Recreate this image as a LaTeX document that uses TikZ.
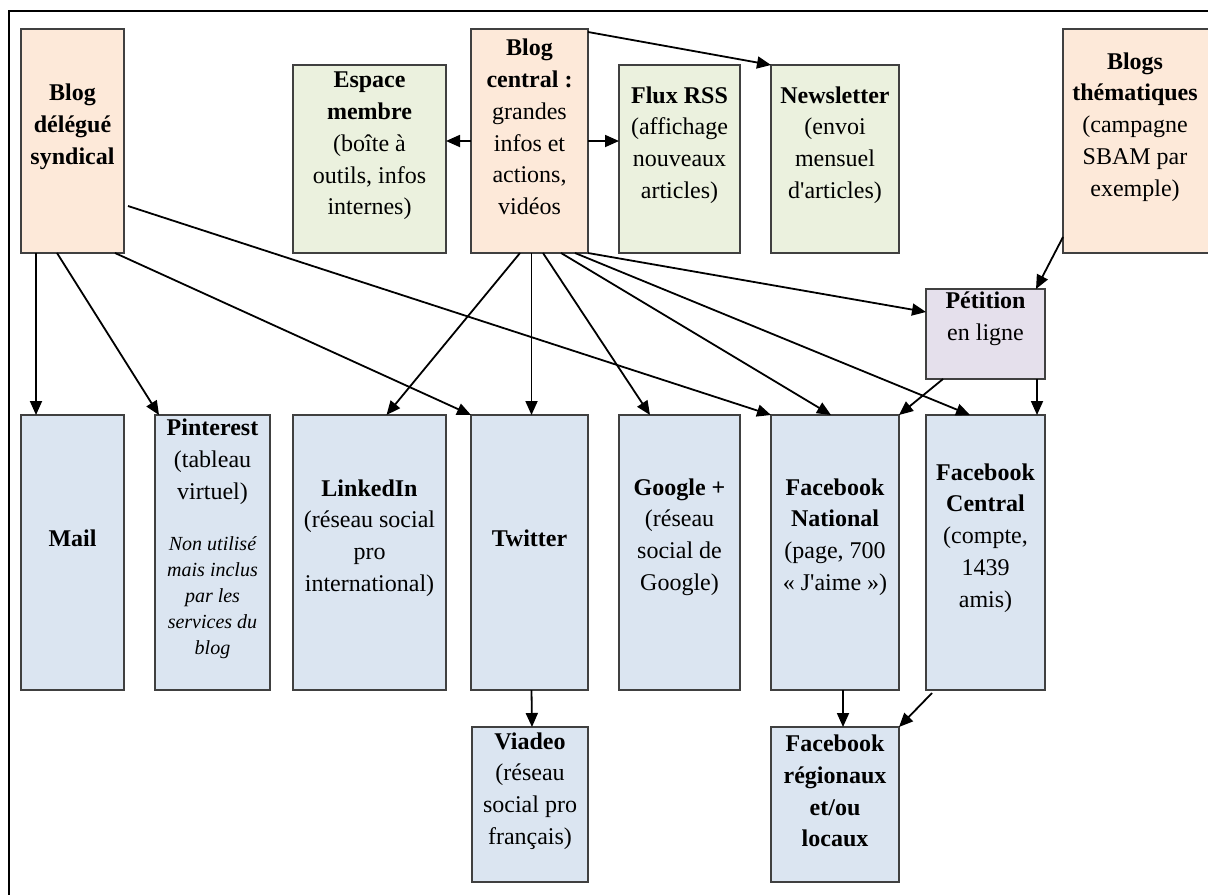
\documentclass[tikz,border=0pt]{standalone}
\usepackage{fontspec}
\usepackage{tikz}
\usetikzlibrary{calc}
\usetikzlibrary{arrows.meta}
\newfontfamily\diagfont{Liberation Serif}

\definecolor{peach}{RGB}{253,233,217}
\definecolor{memgreen}{RGB}{235,241,222}
\definecolor{paleblue}{RGB}{219,229,241}
\definecolor{lilac}{RGB}{229,224,236}

\tikzset{
  box/.style={draw=black!75, line width=0.7pt, inner sep=0pt, outer sep=0pt},
  blogbox/.style={box, fill=peach},
  sitebox/.style={box, fill=memgreen},
  netbox/.style={box, fill=paleblue},
  petbox/.style={box, fill=lilac},
  wh/.style 2 args={minimum width=#1*0.5pt, minimum height=#2*0.5pt},
  txt/.style={align=center, inner sep=0pt, font=\diagfont\fontsize{12}{15.9}\selectfont},
  note/.style={align=center, inner sep=0pt, font=\diagfont\itshape\fontsize{10}{13}\selectfont},
  link/.style={line width=0.9pt, -{Triangle[length=7pt,width=6pt]}}
}

\begin{document}
\begin{tikzpicture}[x=0.5pt, y=-0.5pt]
      \useasboundingbox (0,0) rectangle (1208,894);
      \fill[white] (0,0) rectangle (1208,894);
      \draw[line width=1pt] (9,11) rectangle (1240,920);

      % blogs and site
      \node[blogbox, wh={103}{224}] (deleg) at (72.5,141) {};
      \node[sitebox, wh={153}{188}] (espace) at (369.5,159) {};
      \node[blogbox, wh={117}{224}] (central) at (529.5,141) {};
      \node[sitebox, wh={121}{188}] (rss) at (679.5,159) {};
      \node[sitebox, wh={128}{188}] (news) at (835,159) {};
      \node[blogbox, wh={149}{224}] (themes) at (1137.5,141) {};
      \node[petbox, wh={119}{90}] (petition) at (985.5,334) {};

      % networks
      \node[netbox, wh={103}{275}] (mail) at (72.5,552.5) {};
      \node[netbox, wh={115}{275}] (pinterest) at (212.5,552.5) {};
      \node[netbox, wh={153}{275}] (linkedin) at (369.5,552.5) {};
      \node[netbox, wh={117}{275}] (twitter) at (529.5,552.5) {};
      \node[netbox, wh={121}{275}] (google) at (679.5,552.5) {};
      \node[netbox, wh={128}{275}] (fbnat) at (835,552.5) {};
      \node[netbox, wh={119}{275}] (fbcen) at (985.5,552.5) {};
      \node[netbox, wh={116}{155}] (viadeo) at (530,804.5) {};
      \node[netbox, wh={128}{155}] (fbreg) at (835,804.5) {};

      \node[txt] (deleg-t) at (72.5,127) {\textbf{Blog}\\\textbf{délégué}\\\textbf{syndical}};
      \node[txt] (espace-t) at (369.5,146) {\textbf{Espace}\\\textbf{membre}\\(boîte à\\outils, infos\\internes)};
      \node[txt] (central-t) at (529.5,127) {\textbf{Blog}\\\textbf{central :}\\grandes\\infos et\\actions,\\vidéos};
      \node[txt] (rss-t) at (679.5,145) {\textbf{Flux RSS}\\(affichage\\nouveaux\\articles)};
      \node[txt] (news-t) at (835,145) {\textbf{Newsletter}\\(envoi\\mensuel\\d'articles)};
      \node[txt] (themes-t) at (1135,127) {\textbf{Blogs}\\\textbf{thématiques}\\(campagne\\SBAM par\\exemple)};
      \node[txt] (petition-t) at (985.5,319) {\textbf{Pétition}\\en ligne};
      \node[txt] (mail-t) at (72.5,538) {\textbf{Mail}};
      \node[txt] (pinterest-t) at (212.5,462) {\textbf{Pinterest}\\(tableau\\virtuel)};
      \node[note] (pinterest-n) at (212.5,598) {Non utilisé\\mais inclus\\par les\\services du\\blog};
      \node[txt] (linkedin-t) at (369.5,538) {\textbf{LinkedIn}\\(réseau social\\pro\\international)};
      \node[txt] (twitter-t) at (529.5,538) {\textbf{Twitter}};
      \node[txt] (google-t) at (679.5,537) {\textbf{Google +}\\(réseau\\social de\\Google)};
      \node[txt] (fbnat-t) at (835,537) {\textbf{Facebook}\\\textbf{National}\\(page, 700\\«~J'aime~»)};
      \node[txt] (fbcen-t) at (985.5,538) {\textbf{Facebook}\\\textbf{Central}\\(compte,\\1439\\amis)};
      \node[txt] (viadeo-t) at (530,791) {\textbf{Viadeo}\\(réseau\\social pro\\français)};
      \node[txt] (fbreg-t) at (835,791) {\textbf{Facebook}\\\textbf{régionaux}\\\textbf{et/ou}\\\textbf{locaux}};

      % links
      \draw[link] (central.west) -- (espace.east |- central.west);
      \draw[link] (central.east) -- (rss.west |- central.east);
      \draw[link] ($(central.north east)+(0,3)$) -- (news.north west);
      \draw[link] (central.south east) -- ($(petition.north west)+(0,23)$);
      \draw[link] ($(themes.south west)+(0,-16)$) -- ($(petition.north east)+(-9,0)$);
      \draw[link] ($(deleg.south west)+(15,0)$) -- ($(mail.north west)+(15,0)$);
      \draw[link] ($(deleg.south west)+(36,0)$) -- ($(pinterest.north west)+(4,0)$);
      \draw[link] ($(deleg.south east)+(-9,0)$) -- (twitter.north west);
      \draw[link] ($(deleg.east)+(4,65)$) -- (fbnat.north west);
      \draw[link] ($(central.south west)+(49,0)$) -- ($(linkedin.north)+(17,0)$);
      \draw[link] ($(central.south)+(2,0)$) -- ($(twitter.north)+(2,0)$);
      \draw[link] ($(central.south west)+(72,0)$) -- ($(google.north west)+(31,0)$);
      \draw[link] ($(central.south west)+(90,0)$) -- ($(fbnat.north west)+(60,0)$);
      \draw[link] ($(central.south west)+(104,0)$) -- ($(fbcen.north west)+(44,0)$);
      \draw[link] ($(petition.south west)+(17,0)$) -- (fbnat.north east);
      \draw[link] ($(petition.south east)+(-8,0)$) -- ($(fbcen.north east)+(-8,0)$);
      \draw[link] ($(twitter.south)+(2,0)$) -- ($(viadeo.north)+(2,0)$);
      \draw[link] ($(fbnat.south)+(8,0)$) -- ($(fbreg.north)+(8,0)$);
      \draw[link] ($(fbcen.south west)+(6,3)$) -- (fbreg.north east);
\end{tikzpicture}
\end{document}
